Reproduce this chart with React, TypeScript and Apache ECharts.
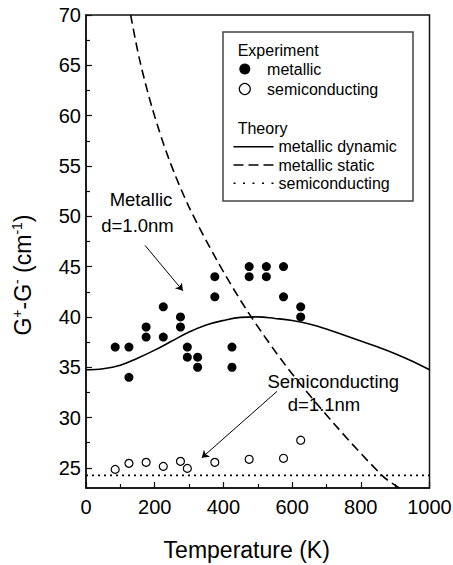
import React, { useEffect, useRef } from "react";
import * as echarts from "echarts";

// ---- data ----
const yTickValues = [25, 30, 35, 40, 45, 50, 55, 60, 65, 70];
const yMinorTickValues = [27.5, 32.5, 37.5, 42.5, 47.5, 52.5, 57.5, 62.5, 67.5];

const metallicTemp = [85, 125, 125, 175, 175, 225, 225, 275, 275, 295, 295, 325, 325, 375, 375, 425, 425, 475, 475, 525, 525, 575, 575, 625, 625];
const metallicExp = [37, 37, 34, 39, 38, 41, 38, 40, 39, 37, 36, 36, 35, 44, 42, 37, 35, 45, 44, 45, 44, 45, 42, 41, 40];

const semiTemp = [85, 125, 175, 225, 275, 295, 375, 475, 575, 625];
const semiExp = [24.85, 25.45, 25.55, 25.15, 25.65, 24.95, 25.55, 25.85, 25.95, 27.75];

const dynTemp = [0, 50, 100, 150, 200, 250, 300, 350, 400, 450, 500, 550, 600, 650, 700, 750, 800, 850, 900, 950, 1000];
const dynTheory = [34.75, 34.85, 35.2, 35.9, 36.7, 37.6, 38.5, 39.2, 39.65, 39.95, 40.0, 39.85, 39.65, 39.3, 38.8, 38.2, 37.6, 37.0, 36.35, 35.6, 34.75];

const staticTemp = [130, 156, 194, 242, 299, 380, 467, 583, 724, 864, 912];
const staticTheory = [70, 65.56, 60.6, 55.63, 50.99, 45.7, 40.73, 35.1, 29.31, 24.18, 23.0];

const semiTheoryTemp = [0, 1000];
const semiTheory = [24.25, 24.25];

const FONT = '"Liberation Sans", Arial, Helvetica, sans-serif';
const INK = "#111";

const pairs = (xs: number[], ys: number[]) => xs.map((x, i) => [x, ys[i]]);

export default function App() {
  const ref = useRef<HTMLDivElement>(null);

  useEffect(() => {
    if (!ref.current) return;
    const chart = echarts.init(ref.current, undefined, { renderer: "svg" });

    const axisLineStyle = { color: INK, width: 1.5 };

    const option: any = {
      animation: false,
      backgroundColor: "#fff",
      grid: {
        left: 86,
        right: 23.5,
        top: 15,
        bottom: 77,
        show: true,
        borderColor: INK,
        borderWidth: 1.5,
        backgroundColor: "transparent",
        containLabel: false,
        outerBoundsMode: "none",
      },
      xAxis: {
        type: "value",
        min: 0,
        max: 1000,
        interval: 200,
        axisLine: { show: true, lineStyle: axisLineStyle },
        axisTick: { show: true, inside: true, length: 6, lineStyle: { color: INK, width: 1.2 } },
        minorTick: { show: true, splitNumber: 2, length: 4, lineStyle: { color: INK, width: 1.2 } },
        splitLine: { show: false },
        minorSplitLine: { show: false },
        axisLabel: {
          color: "#000",
          fontSize: 20,
          fontFamily: FONT,
          margin: 9,
          formatter: (v: number) => String(v),
        },
      },
      yAxis: [
        {
          type: "value",
          min: 23,
          max: 70,
          position: "left",
          axisLine: { show: true, lineStyle: axisLineStyle },
          axisTick: { show: true, inside: true, length: 6, customValues: yTickValues, lineStyle: { color: INK, width: 1.2 } },
          axisLabel: {
            color: "#000",
            fontSize: 20,
            fontFamily: FONT,
            margin: 5,
            customValues: yTickValues,
            formatter: (v: number) => String(v),
          },
          splitLine: { show: false },
        },
        {
          type: "value",
          min: 23,
          max: 70,
          position: "left",
          offset: 0,
          axisLine: { show: false },
          axisTick: { show: true, inside: true, length: 4, customValues: yMinorTickValues, lineStyle: { color: INK, width: 1.2 } },
          axisLabel: { show: false },
          splitLine: { show: false },
        },
      ],
      legend: [
        {
          orient: "vertical",
          left: 238.7,
          top: 61,
          padding: 0,
          itemWidth: 34.6,
          itemHeight: 11,
          itemGap: 4,
          selectedMode: false,
          textStyle: { color: "#000", fontSize: 16, fontFamily: FONT },
          data: [
            { name: "metallic", icon: "circle", itemStyle: { color: "#000", borderWidth: 0 } },
            { name: "semiconducting", icon: "circle", itemStyle: { color: "#fff", borderColor: "#000", borderWidth: 1.2 } },
          ],
        },
        {
          orient: "vertical",
          left: 233.5,
          top: 138.7,
          padding: 0,
          itemWidth: 40,
          itemHeight: 14,
          itemGap: 2.3,
          selectedMode: false,
          textStyle: { color: "#000", fontSize: 16, fontFamily: FONT },
          formatter: (n: string) => (n === "semiconducting theory" ? "semiconducting" : n),
          data: [
            { name: "metallic dynamic", icon: "path://M0,0H40V1.5H0Z", itemStyle: { color: "#000", borderWidth: 0 } },
            {
              name: "metallic static",
              icon: "path://M0,0H10V1.5H0Z M15,0H25V1.5H15Z M30,0H40V1.5H30Z",
              itemStyle: { color: "#000", borderWidth: 0 },
            },
            {
              name: "semiconducting theory",
              icon: "path://M0,0H2V1.5H0Z M9.5,0H11.5V1.5H9.5Z M19,0H21V1.5H19Z M28.5,0H30.5V1.5H28.5Z M38,0H40V1.5H38Z",
              itemStyle: { color: "#000", borderWidth: 0 },
            },
          ],
        },
      ],
      series: [
        {
          name: "metallic dynamic",
          type: "line",
          data: pairs(dynTemp, dynTheory),
          smooth: 0.4,
          symbol: "none",
          lineStyle: { color: "#000", width: 1.6 },
          itemStyle: { color: "#000" },
          silent: true,
          z: 2,
          markLine: {
            silent: true,
            symbol: ["none", "arrow"],
            symbolSize: 7,
            label: { show: false },
            lineStyle: { color: "#000", width: 1, type: "solid" },
            data: [
              [{ coord: [172, 47.1] }, { coord: [282, 42.6] }],
              [{ coord: [556, 32.6] }, { coord: [337, 26.0] }],
            ],
          },
        },
        {
          name: "metallic static",
          type: "line",
          data: pairs(staticTemp, staticTheory),
          smooth: 0.3,
          symbol: "none",
          lineStyle: { color: "#000", width: 1.6, type: [9, 5] },
          itemStyle: { color: "#000" },
          silent: true,
          z: 2,
        },
        {
          name: "semiconducting theory",
          type: "line",
          data: pairs(semiTheoryTemp, semiTheory),
          symbol: "none",
          lineStyle: { color: "#000", width: 1.6, type: [2, 4] },
          itemStyle: { color: "#000" },
          silent: true,
          z: 2,
        },
        {
          name: "metallic",
          type: "scatter",
          data: pairs(metallicTemp, metallicExp),
          symbol: "circle",
          symbolSize: 9,
          itemStyle: { color: "#000", opacity: 1 },
          silent: true,
          z: 3,
        },
        {
          name: "semiconducting",
          type: "scatter",
          data: pairs(semiTemp, semiExp),
          symbol: "circle",
          symbolSize: 8,
          itemStyle: { color: "#fff", borderColor: "#000", borderWidth: 1.2, opacity: 1 },
          silent: true,
          z: 3,
        },
      ],
      graphic: [
        {
          type: "rect",
          shape: { x: 223, y: 32, width: 190, height: 169 },
          style: { fill: "none", stroke: "#444", lineWidth: 1.5 },
          silent: true,
        },
        {
          type: "text",
          x: 237.7,
          y: 50,
          style: { text: "Experiment", fontSize: 16, fontFamily: FONT, fill: "#000", align: "left", verticalAlign: "middle" },
        },
        {
          type: "text",
          x: 237.7,
          y: 128,
          style: { text: "Theory", fontSize: 16, fontFamily: FONT, fill: "#000", align: "left", verticalAlign: "middle" },
        },
        {
          type: "text",
          x: 141,
          y: 199,
          style: { text: "Metallic", fontSize: 18.5, fontFamily: FONT, fill: "#000", align: "center", verticalAlign: "middle" },
        },
        {
          type: "text",
          x: 137.5,
          y: 225,
          style: { text: "d=1.0nm", fontSize: 18.5, fontFamily: FONT, fill: "#000", align: "center", verticalAlign: "middle" },
        },
        {
          type: "text",
          x: 333.3,
          y: 381.7,
          style: { text: "Semiconducting", fontSize: 18.5, fontFamily: FONT, fill: "#000", align: "center", verticalAlign: "middle" },
        },
        {
          type: "text",
          x: 324,
          y: 404,
          style: { text: "d=1.1nm", fontSize: 18.5, fontFamily: FONT, fill: "#000", align: "center", verticalAlign: "middle" },
        },
        {
          type: "text",
          x: 246.7,
          y: 550,
          style: { text: "Temperature (K)", fontSize: 23, fontFamily: FONT, fill: "#000", align: "center", verticalAlign: "middle" },
        },
        {
          type: "text",
          x: 22.5,
          y: 275,
          rotation: Math.PI / 2,
          style: {
            text: "{m|G}{s|+}{m|-G}{s|-}{m| (cm}{s|-1}{m|)}",
            align: "center",
            verticalAlign: "middle",
            fill: "#000",
            rich: {
              m: { fontSize: 23, fontFamily: FONT, lineHeight: 26, fill: "#000" },
              s: { fontSize: 14, fontFamily: FONT, lineHeight: 14, verticalAlign: "top", fill: "#000" },
            },
          },
        },
      ],
    };

    chart.setOption(option);
    return () => chart.dispose();
  }, []);

  return (
    <div
      ref={ref}
      style={{ position: "fixed", left: 0, top: 0, width: 453, height: 565, background: "#fff" }}
    />
  );
}
